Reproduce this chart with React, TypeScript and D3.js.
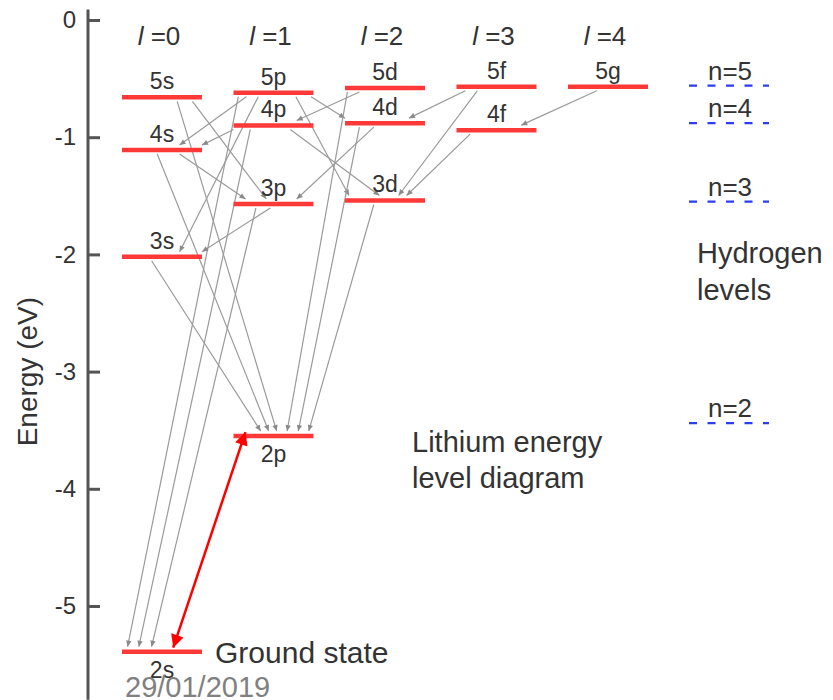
import React, { useEffect, useRef } from 'react';
import * as d3 from 'd3';

// orbital angular momentum columns
const orbitalL = [0, 1, 2, 3, 4];

// lithium levels (eV)
const levelNames = ['2s', '3s', '4s', '5s', '2p', '3p', '4p', '5p', '3d', '4d', '5d', '4f', '5f', '5g'];
const levelL = [0, 0, 0, 0, 1, 1, 1, 1, 2, 2, 2, 3, 3, 4];
const levelEnergy = [-5.39, -2.02, -1.11, -0.66, -3.55, -1.57, -0.9, -0.62, -1.54, -0.88, -0.58, -0.94, -0.57, -0.57];

// hydrogen levels for comparison
const hydrogenLabels = ['n=2', 'n=3', 'n=4', 'n=5'];
const hydrogenEnergy = [-3.44, -1.55, -0.88, -0.56];

const energyTicks = [0, -1, -2, -3, -4, -5];

// decays: upper level -> lower level
const transFrom = ['5s', '5s', '4s', '4s', '3s', '5p', '5p', '5p', '5p', '5p', '4p', '4p', '4p', '3p', '3p', '5d', '5d', '4d', '4d', '3d', '5f', '5f', '4f', '5g'];
const transTo = ['3p', '2p', '3p', '2p', '2p', '4s', '3s', '2s', '4d', '3d', '4s', '2s', '3d', '3s', '2s', '4p', '2p', '3p', '2p', '2p', '4d', '3d', '3d', '4f'];
// where each line leaves / meets a bar (fraction of bar length)
const fromAt = [0.88, 0.69, 0.72, 0.44, 0.37, 0.16, 0.31, 0.06, 0.97, 0.78, 0.0, 0.21, 0.71, 0.46, 0.28, 0.18, 0.03, 0.36, 0.18, 0.36, 0.11, 0.26, 0.17, 0.36];
const toAt = [0.41, 0.54, 0.15, 0.44, 0.34, 0.72, 0.72, 0.07, 0.0, 0.05, 1.0, 0.21, 0.43, 1.0, 0.37, 0.79, 0.67, 0.79, 0.81, 0.94, 0.8, 0.67, 0.77, 0.81];

const App = () => {
  const ref = useRef<SVGSVGElement>(null);

  useEffect(() => {
    const svg = d3.select(ref.current);
    svg.selectAll('*').remove();

    const font = '"Liberation Sans", Arial, sans-serif';
    const textColor = '#333';
    const red = '#ff3838';
    const barW = 80;
    const hydrogenX = 729;

    const y = d3.scaleLinear().domain([0, -5]).range([20, 606]);
    const x = d3.scaleLinear().domain([0, 4]).range([162, 608]);

    const idx = (name: string) => levelNames.indexOf(name);
    const barX = (name: string, u: number) => x(levelL[idx(name)]) - barW / 2 + u * barW;
    const barY = (name: string) => y(levelEnergy[idx(name)]);

    const defs = svg.append('defs');
    defs.append('marker')
      .attr('id', 'grayHead')
      .attr('viewBox', '0 0 10 10')
      .attr('refX', 10).attr('refY', 5)
      .attr('markerWidth', 7).attr('markerHeight', 6)
      .attr('markerUnits', 'userSpaceOnUse')
      .attr('orient', 'auto')
      .append('path').attr('d', 'M0,0.5 L10,5 L0,9.5 Z').attr('fill', '#8a8a8a');
    defs.append('marker')
      .attr('id', 'redHead')
      .attr('viewBox', '0 0 10 10')
      .attr('refX', 10).attr('refY', 5)
      .attr('markerWidth', 15).attr('markerHeight', 13)
      .attr('markerUnits', 'userSpaceOnUse')
      .attr('orient', 'auto-start-reverse')
      .append('path').attr('d', 'M0,0 L10,5 L0,10 Z').attr('fill', '#f00');

    // axis
    const axisG = svg.append('g').attr('transform', 'translate(88,0)');
    axisG.append('line')
      .attr('y1', y(0.09)).attr('y2', y(-5.8))
      .attr('stroke', '#555').attr('stroke-width', 3);
    axisG.call(
      d3.axisLeft(y).tickValues(energyTicks).tickSize(-12).tickPadding(12)
        .tickFormat(d => String(d))
    );
    axisG.select('.domain').remove();
    axisG.selectAll('.tick line').attr('stroke', '#555').attr('stroke-width', 3);
    axisG.selectAll('.tick text')
      .attr('fill', textColor)
      .attr('font-size', 24)
      .attr('font-family', font);

    svg.append('text')
      .attr('transform', `translate(37,${y(-3)}) rotate(-90)`)
      .attr('text-anchor', 'middle')
      .attr('font-family', font).attr('font-size', 28).attr('fill', textColor)
      .text('Energy (eV)');

    // column headers
    const head = svg.selectAll('.head')
      .data(orbitalL)
      .enter().append('text')
      .attr('class', 'head')
      .attr('x', d => x(d) - 3)
      .attr('y', 45)
      .attr('text-anchor', 'middle')
      .attr('font-family', font).attr('font-size', 26).attr('fill', textColor);
    head.append('tspan').attr('font-style', 'italic').text('l');
    head.append('tspan').text(d => ` =${d}`);

    // transitions
    svg.selectAll('.trans')
      .data(transFrom)
      .enter().append('line')
      .attr('class', 'trans')
      .attr('x1', (d, i) => barX(d, fromAt[i]))
      .attr('y1', d => barY(d) + 4)
      .attr('x2', (d, i) => barX(transTo[i], toAt[i]))
      .attr('y2', (d, i) => barY(transTo[i]) - 5)
      .attr('stroke', '#9a9a9a')
      .attr('stroke-width', 1.2)
      .attr('marker-end', 'url(#grayHead)');

    // lithium levels
    svg.selectAll('.level')
      .data(levelNames)
      .enter().append('line')
      .attr('class', 'level')
      .attr('x1', d => barX(d, 0))
      .attr('x2', d => barX(d, 1))
      .attr('y1', d => barY(d))
      .attr('y2', d => barY(d))
      .attr('stroke', red)
      .attr('stroke-width', 4.5);

    svg.selectAll('.levelLabel')
      .data(levelNames)
      .enter().append('text')
      .attr('class', 'levelLabel')
      .attr('x', d => barX(d, 0.5))
      .attr('y', d => d[0] === '2' ? barY(d) + 26 : barY(d) - 8)
      .attr('text-anchor', 'middle')
      .attr('font-family', font).attr('font-size', 23).attr('fill', textColor)
      .text(d => d);

    // 2s <-> 2p resonance line
    svg.append('line')
      .attr('x1', barX('2s', 0.64)).attr('y1', barY('2s') - 4)
      .attr('x2', barX('2p', 0.15)).attr('y2', barY('2p') - 4)
      .attr('stroke', '#f00').attr('stroke-width', 2.5)
      .attr('marker-start', 'url(#redHead)')
      .attr('marker-end', 'url(#redHead)');

    // hydrogen levels
    svg.selectAll('.hLevel')
      .data(hydrogenEnergy)
      .enter().append('line')
      .attr('class', 'hLevel')
      .attr('x1', hydrogenX - barW / 2).attr('x2', hydrogenX + barW / 2)
      .attr('y1', d => y(d)).attr('y2', d => y(d))
      .attr('stroke', '#2a3cf5').attr('stroke-width', 2.2)
      .attr('stroke-dasharray', '8,10.5');

    svg.selectAll('.hLabel')
      .data(hydrogenLabels)
      .enter().append('text')
      .attr('class', 'hLabel')
      .attr('x', hydrogenX + 1)
      .attr('y', (d, i) => y(hydrogenEnergy[i]) - 6)
      .attr('text-anchor', 'middle')
      .attr('font-family', font).attr('font-size', 26).attr('fill', textColor)
      .text(d => d);

    const note = (tx: string, px: number, py: number, size: number, color = textColor) =>
      svg.append('text')
        .attr('x', px).attr('y', py)
        .attr('font-family', font).attr('font-size', size).attr('fill', color)
        .text(tx);

    note('Hydrogen', 697, 263, 29);
    note('levels', 697, 300, 29);
    note('Lithium energy', 412, 452, 29);
    note('level diagram', 412, 488, 29);
    note('Ground state', 215, 663, 30);
    note('29/01/2019', 125, 697, 29, '#808080');
  }, []);

  return (
    <svg
      ref={ref}
      width={833}
      height={700}
      style={{ position: 'absolute', left: 0, top: 0, background: '#fff' }}
    />
  );
};

export default App;
